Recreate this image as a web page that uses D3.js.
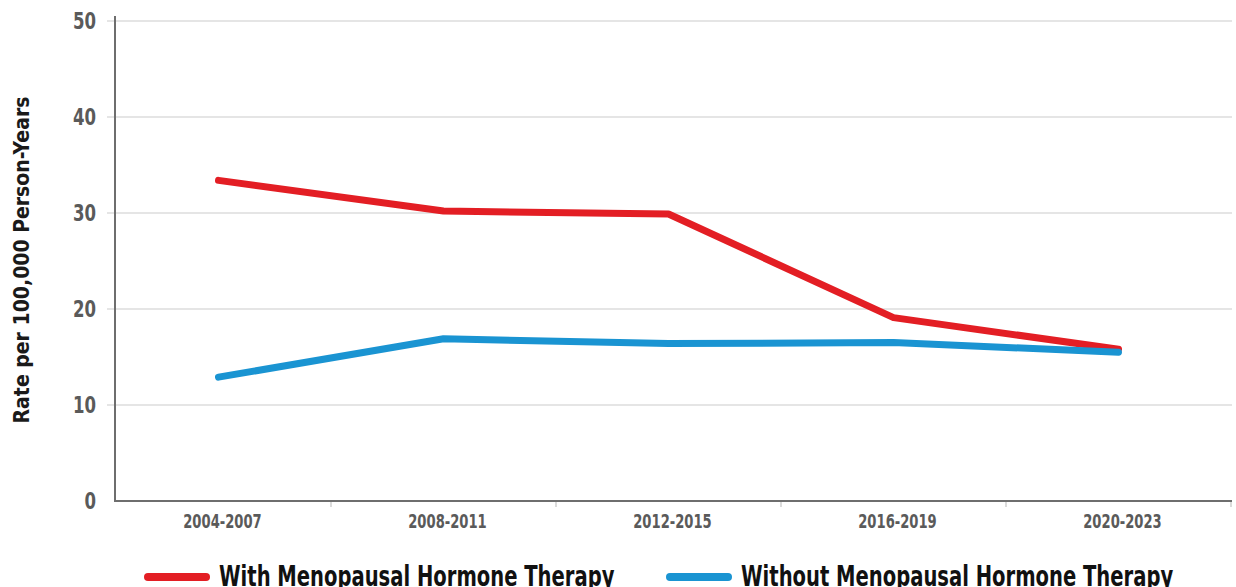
<!DOCTYPE html>
<html>
<head>
<meta charset="utf-8">
<script src="https://cdn.jsdelivr.net/npm/d3@7"></script>
<style>
  html, body { margin: 0; padding: 0; background: #fff; }
  svg { display: block; }
  svg text { font-family: "DejaVu Sans Condensed", "Liberation Sans", sans-serif; font-stretch: condensed; }
</style>
</head>
<body>
<svg id="chart" width="1236" height="587"></svg>
<script>
// данные графика
const periods = ["2004-2007", "2008-2011", "2012-2015", "2016-2019", "2020-2023"];
const withMHT = [33.4, 30.2, 29.9, 19.1, 15.8];
const withoutMHT = [12.9, 16.9, 16.4, 16.5, 15.5];
const yTicks = [0, 10, 20, 30, 40, 50];
const seriesNames = ["With Menopausal Hormone Therapy", "Without Menopausal Hormone Therapy"];
const seriesColors = ["#e31e24", "#1a94d2"];

const svg = d3.select("#chart");
const axisX = 115;

const xScale = d3.scaleBand().domain(periods).range([106, 1231]);
const yScale = d3.scaleLinear().domain([0, 50]).range([501, 21]);

// сетка
svg.append("g")
  .selectAll("line")
  .data(yTicks.filter(d => d > 0))
  .enter()
  .append("line")
  .attr("x1", 107)
  .attr("x2", 1232)
  .attr("y1", d => yScale(d))
  .attr("y2", d => yScale(d))
  .attr("stroke", "#dcdcdc")
  .attr("stroke-width", 1.5);

// подписи оси Y (шрифт сжимаем по горизонтали, как в оригинале)
const yAxis = d3.axisLeft(yScale).tickValues(yTicks).tickSize(0).tickPadding(0);
const gy = svg.append("g")
  .attr("transform", `translate(96,0)`)
  .call(yAxis)
  .attr("font-family", null);
gy.select(".domain").remove();
gy.selectAll("text")
  .attr("font-size", 23)
  .attr("font-weight", "bold")
  .attr("fill", "#5a5a5a")
  .attr("transform", "scale(0.8,1)");

// ось X
const xAxis = d3.axisBottom(xScale).tickSize(0).tickPadding(13);
const gx = svg.append("g")
  .attr("transform", `translate(0,${yScale(0)})`)
  .call(xAxis)
  .attr("font-family", null);
gx.select(".domain").remove();
gx.selectAll("text")
  .attr("font-size", 20)
  .attr("font-weight", "bold")
  .attr("fill", "#5a5a5a")
  .attr("transform", "translate(4,0) scale(0.73,1)");

// засечки между категориями
const boundaries = periods.slice(1).map(p => xScale(p)).concat([xScale.range()[1]]);
svg.append("g")
  .selectAll("line")
  .data(boundaries)
  .enter()
  .append("line")
  .attr("x1", d => d)
  .attr("x2", d => d)
  .attr("y1", yScale(0))
  .attr("y2", yScale(0) + 6)
  .attr("stroke", "#cfcfcf")
  .attr("stroke-width", 1.5);

// линии осей
svg.append("line")
  .attr("x1", axisX).attr("x2", axisX)
  .attr("y1", 16).attr("y2", yScale(0))
  .attr("stroke", "#6e6e6e").attr("stroke-width", 2);
svg.append("line")
  .attr("x1", axisX - 1).attr("x2", 1232)
  .attr("y1", yScale(0)).attr("y2", yScale(0))
  .attr("stroke", "#6e6e6e").attr("stroke-width", 2);

// заголовок оси Y
svg.append("text")
  .attr("transform", `translate(29,260) rotate(-90)`)
  .attr("text-anchor", "middle")
  .attr("font-size", 21)
  .attr("font-weight", "bold")
  .attr("fill", "#1a1a1a")
  .text("Rate per 100,000 Person-Years");

// линии серий
const lineGenerator = d3.line()
  .x((d, i) => xScale(periods[i]) + xScale.bandwidth() / 2)
  .y(d => yScale(d));

[withMHT, withoutMHT].forEach((values, i) => {
  svg.append("path")
    .datum(values)
    .attr("fill", "none")
    .attr("stroke", seriesColors[i])
    .attr("stroke-width", 7)
    .attr("stroke-linecap", "round")
    .attr("stroke-linejoin", "round")
    .attr("d", lineGenerator);
});

// легенда
const legendX = [148, 670];
const legend = svg.append("g");
seriesNames.forEach((name, i) => {
  legend.append("line")
    .attr("x1", legendX[i]).attr("x2", legendX[i] + 58)
    .attr("y1", 577).attr("y2", 577)
    .attr("stroke", seriesColors[i])
    .attr("stroke-width", 8)
    .attr("stroke-linecap", "round");
  legend.append("text")
    .attr("transform", `translate(${legendX[i] + 71},586) scale(0.75,1)`)
    .attr("font-size", 29)
    .attr("font-weight", "bold")
    .attr("fill", "#111")
    .text(name);
});
</script>
</body>
</html>
